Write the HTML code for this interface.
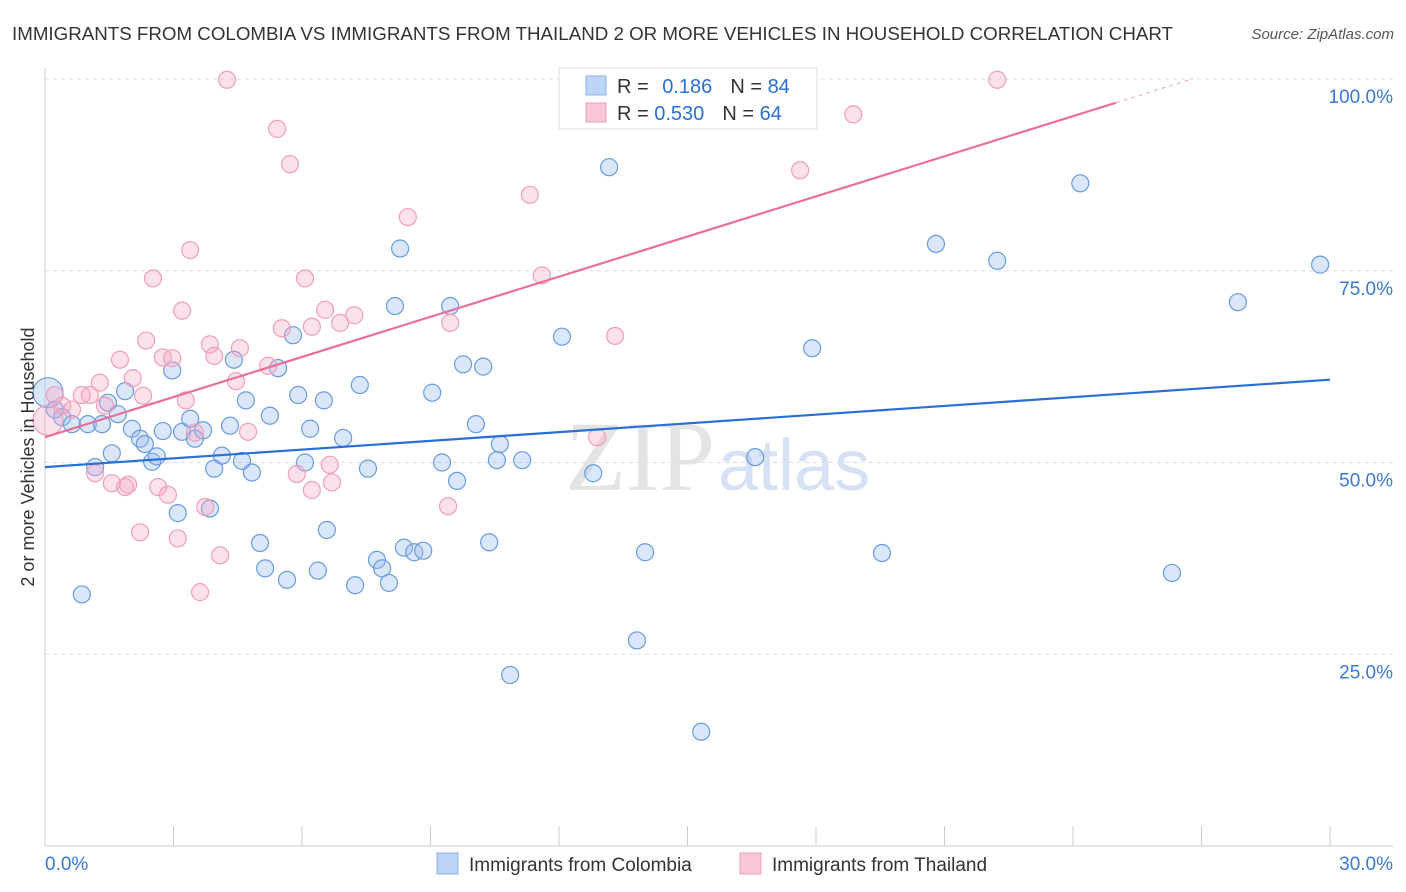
<!DOCTYPE html>
<html><head><meta charset="utf-8"><style>
body{margin:0;background:#fff;font-family:"Liberation Sans",sans-serif;}
svg{display:block}
</style></head><body>
<svg id="chart" width="1406" height="892">
<text x="12" y="40" font-size="18" fill="#333" textLength="1161" lengthAdjust="spacingAndGlyphs">IMMIGRANTS FROM COLOMBIA VS IMMIGRANTS FROM THAILAND 2 OR MORE VEHICLES IN HOUSEHOLD CORRELATION CHART</text>
<text x="1394" y="39" font-size="15" fill="#555" font-style="italic" text-anchor="end">Source: ZipAtlas.com</text>
<text x="715" y="490" font-size="100" fill="#e4e4e4" text-anchor="end" font-family="Liberation Serif,serif">ZIP</text>
<text x="718" y="490" font-size="72" fill="#d6e2f4">atlas</text>
<g id="grid"></g>
<g id="axes"></g>
<g id="pts"></g>
<g id="lines"></g>
<text transform="translate(34,457) rotate(-90)" font-size="18" fill="#333" text-anchor="middle">2 or more Vehicles in Household</text>
<g>
<rect x="559" y="68" width="258" height="61" fill="#fff" stroke="#ddd"/>
<rect x="586" y="76" width="20" height="19" fill="#bcd4f5" stroke="#8ab0e8"/>
<rect x="586" y="103" width="20" height="19" fill="#f8c8d8" stroke="#eea0b8"/>
<text x="617" y="93" font-size="20" fill="#333">R = <tspan fill="#2a6fd6" dx="8">0.186</tspan><tspan dx="18" fill="#333">N = </tspan><tspan fill="#2a6fd6">84</tspan></text>
<text x="617" y="120" font-size="20" fill="#333">R = <tspan fill="#2a6fd6">0.530</tspan><tspan dx="18" fill="#333">N = </tspan><tspan fill="#2a6fd6">64</tspan></text>
</g>
<g>
<rect x="437" y="853" width="21" height="21" fill="#bcd4f5" stroke="#8ab0e8"/>
<text x="469" y="871" font-size="19" fill="#333">Immigrants from Colombia</text>
<rect x="740" y="853" width="21" height="21" fill="#f8c8d8" stroke="#eea0b8"/>
<text x="772" y="871" font-size="19" fill="#333">Immigrants from Thailand</text>
</g>
</svg>
<script>
const yTicks=[25,50,75,100];
const xTickLabels=["0.0%","30.0%"];
const blueLine=[49.4,60.8];
const pinkLine=[53.3,96.9];
const blueX=[0.07,0.23,0.40,0.63,0.86,1.00,1.17,1.33,1.47,1.56,1.70,1.87,2.03,2.22,2.33,2.50,2.61,2.75,2.97,3.10,3.20,3.39,3.50,3.69,3.85,3.95,4.13,4.32,4.41,4.69,4.60,4.83,5.02,5.14,5.25,5.44,5.65,5.79,5.91,6.19,6.07,6.37,6.51,6.58,6.96,7.24,7.35,7.54,7.75,7.87,8.03,8.17,8.29,8.38,8.62,8.83,9.04,9.27,9.46,9.62,9.76,10.06,10.23,10.37,10.55,10.62,10.86,11.14,12.07,12.80,13.17,13.82,14.01,15.32,16.58,17.91,19.54,20.80,22.23,24.17,26.31,27.85,29.77];
const blueY=[59.1,56.9,55.9,55.0,32.8,55.0,49.4,55.0,57.8,51.2,56.3,59.3,54.4,53.1,52.4,50.1,50.8,54.1,62.0,43.4,54.0,55.7,53.1,54.2,44.0,49.2,50.9,54.8,63.4,58.1,50.2,48.7,39.5,36.2,56.1,62.3,34.7,66.6,58.8,54.4,50.0,35.9,58.1,41.2,53.2,34.0,60.1,49.2,37.3,36.2,34.3,70.4,77.9,38.9,38.3,38.5,59.1,50.0,70.4,47.6,62.8,55.0,62.5,39.6,50.3,52.4,22.3,50.3,66.4,48.6,88.5,26.8,38.3,14.9,50.7,64.9,38.2,78.5,76.3,86.4,35.6,70.9,75.8];
const pinkX=[0.07,0.23,0.40,0.63,0.86,1.05,1.17,1.28,1.40,1.56,1.75,1.87,1.94,2.05,2.22,2.29,2.36,2.52,2.64,2.75,2.87,2.97,3.10,3.20,3.29,3.39,3.50,3.74,3.85,3.95,4.09,4.25,4.46,4.55,4.74,5.21,5.42,5.53,5.72,5.88,6.07,6.23,6.23,6.54,6.65,6.70,6.89,7.22,8.47,9.41,9.46,11.32,11.60,12.89,13.31,17.63,18.87,22.23,3.62];
const pinkY=[55.5,58.8,57.4,56.9,58.8,58.8,48.6,60.4,57.4,47.3,63.4,46.8,47.1,61.0,40.9,58.7,65.9,74.0,46.8,63.7,45.8,63.6,40.1,69.8,58.1,77.7,53.9,44.2,65.4,63.9,37.9,99.9,60.6,64.9,54.0,62.6,93.5,67.5,88.9,48.5,74.0,46.4,67.7,69.9,49.7,47.4,68.2,69.2,82.0,44.3,68.2,84.9,74.4,53.3,66.5,88.1,95.4,99.9,33.1];
const NS="http://www.w3.org/2000/svg";
const X=v=>45+v*(1285/30), Y=v=>846-v*7.67;
function mk(tag,attrs,parent){const e=document.createElementNS(NS,tag);for(const k in attrs)e.setAttribute(k,attrs[k]);parent.appendChild(e);return e;}
const grid=document.getElementById('grid'),axes=document.getElementById('axes'),pts=document.getElementById('pts'),lines=document.getElementById('lines');
yTicks.forEach(t=>{
  const l=mk('line',{x1:45,x2:1393,y1:Y(t),y2:Y(t),stroke:'#ddd','stroke-dasharray':'4,4'},grid);
  
  
  const tx=mk('text',{x:1393,y:Y(t)+24,'font-size':19,fill:'#3a78d8','text-anchor':'end'},grid);
  tx.textContent=t.toFixed(1)+'%';
  
  
});
const ya=mk('line',{x1:45,x2:45,y1:68,y2:846,stroke:'#ccc'},axes);


const xa=mk('line',{x1:45,x2:1393,y1:846,y2:846,stroke:'#ccc'},axes);


for(let i=0;i<=10;i++){const t=mk('line',{x1:X(i*3),x2:X(i*3),y1:826,y2:846,stroke:'#ccc'},axes);
  
  }
[[0,'start',45],[30,'end',1393]].forEach((p,i)=>{const t=mk('text',{x:p[2],y:870,'font-size':19,fill:'#3a78d8','text-anchor':p[1]},axes);t.textContent=xTickLabels[i];
  
  });
function dots(xs,ys,fill,stroke,name){xs.forEach((x,i)=>{const c=mk('circle',{cx:X(x),cy:Y(ys[i]),r:i===0?15:8.5,fill:fill,stroke:stroke,'stroke-width':1.2},pts);
  
  });}
dots(blueX,blueY,'rgba(150,185,240,0.35)','#6a9be0','colombia-point');
dots(pinkX,pinkY,'rgba(245,165,195,0.35)','#eea0b8','thailand-point');
const bl=mk('line',{x1:X(0),y1:Y(blueLine[0]),x2:X(30),y2:Y(blueLine[1]),stroke:'#2a6fd6','stroke-width':2.2},lines);


const pl=mk('line',{x1:X(0),y1:Y(pinkLine[0]),x2:X(25),y2:Y(pinkLine[1]),stroke:'#e8709a','stroke-width':2.2},lines);


const sl=(pinkLine[1]-pinkLine[0])/25;
const pd=mk('line',{x1:X(25),y1:Y(pinkLine[1]),x2:X(26.8),y2:Y(pinkLine[1]+sl*1.8),stroke:'#e8a0b8','stroke-width':1,'stroke-dasharray':'4,4'},lines);


</script>
</body></html>
